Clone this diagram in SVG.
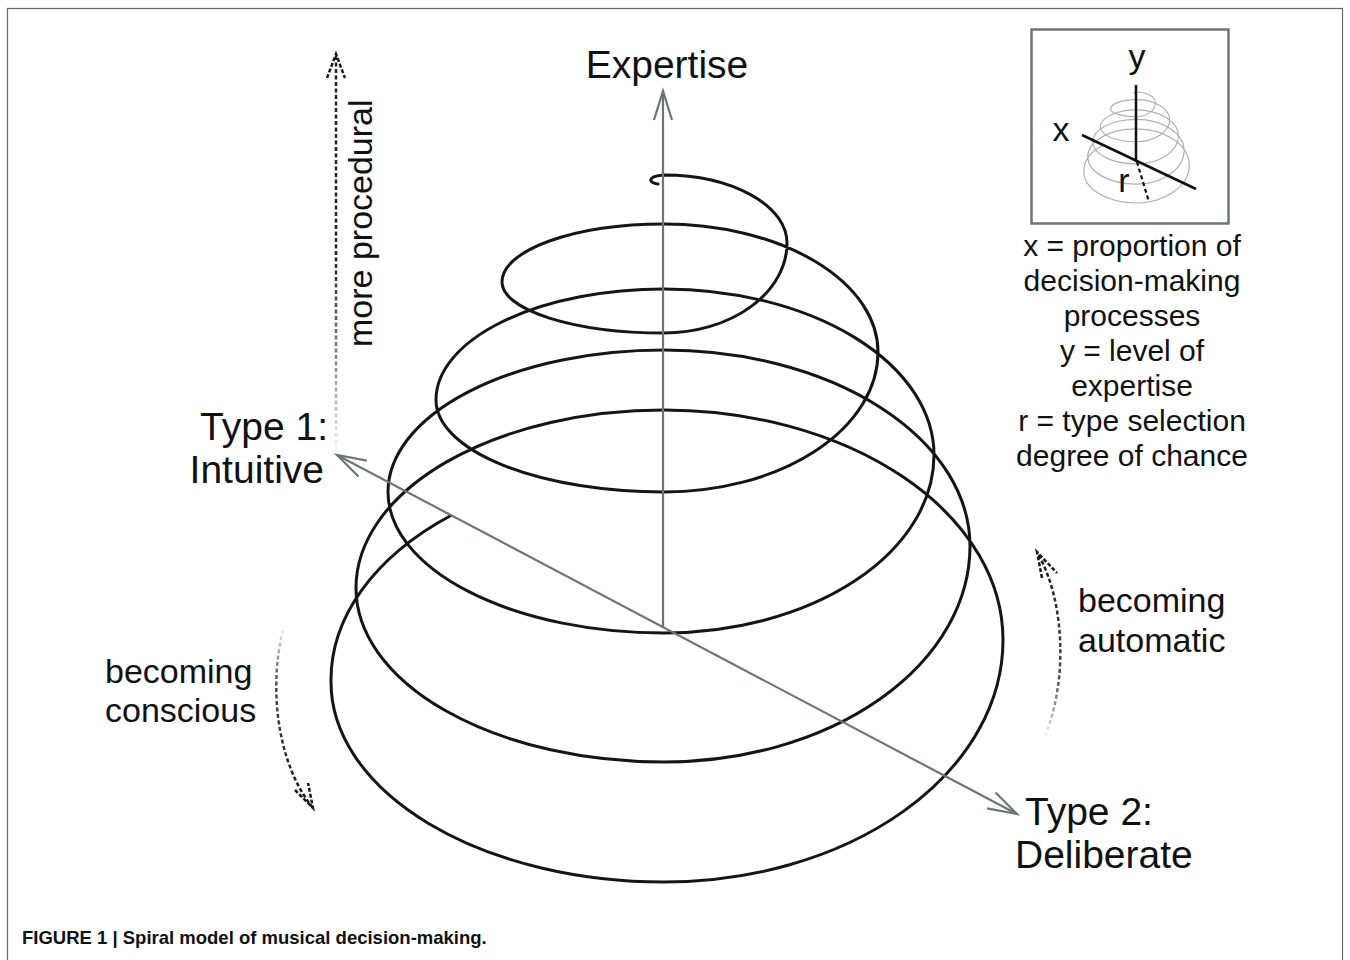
<svg xmlns="http://www.w3.org/2000/svg" xmlns:xlink="http://www.w3.org/1999/xlink" width="1350" height="960" viewBox="0 0 1350 960">
<style>
  text { font-family: "Liberation Sans", Arial, sans-serif; fill: #111; }
  .big { font-size: 39px; }
  .mid { font-size: 34px; }
  .legend { font-size: 30px; text-anchor: middle; }
  .axis { fill: none; stroke: #6c7676; stroke-width: 2.2; }
  .spiral { fill: none; stroke: #151515; stroke-width: 3; stroke-linejoin: round; stroke-linecap: round; }
  .mini { fill: none; stroke: #b0b0b0; stroke-width: 7.5; }
  .dash { fill: none; stroke-width: 2.5; stroke-dasharray: 4 2.5; }
  .dashhead { fill: none; stroke: #1a1a1a; stroke-width: 2.5; stroke-dasharray: 4 2; }
</style>
<defs>
  <marker id="ah" viewBox="-30 -12 32 24" refX="0" refY="0" markerWidth="32" markerHeight="24" markerUnits="userSpaceOnUse" orient="auto-start-reverse" overflow="visible">
    <path d="M -29 -9 L 0 0 L -29 9" fill="none" stroke="#6c7676" stroke-width="2.2"/>
  </marker>
  <path id="spiralPath" d="M 658 184 C 648 183 647 176 664 175 A 123 68 0 0 1 787 243 A 123 90 0 0 1 664 333 A 162 51 0 0 1 502 282 A 162 58 0 0 1 664 224 A 214 128 0 0 1 878 352 A 214 140 0 0 1 664 492 A 228 92 0 0 1 436 400 A 228 111 0 0 1 664 289 A 270 166 0 0 1 934 455 A 270 178 0 0 1 664 633 A 276 141 0 0 1 388 492 A 276 142 0 0 1 664 350 A 306 196 0 0 1 970 546 A 306 216 0 0 1 664 762 A 308 174 0 0 1 356 588 A 308 178 0 0 1 664 410 A 339 230 0 0 1 1003 640 A 339 242 0 0 1 664 882 A 333 200 0 0 1 331 682 A 333 214 0 0 1 450 516"/>
  <linearGradient id="fadeUp" gradientUnits="userSpaceOnUse" x1="0" y1="450" x2="0" y2="56">
    <stop offset="0" stop-color="#222" stop-opacity="0.05"/>
    <stop offset="0.25" stop-color="#222" stop-opacity="0.6"/>
    <stop offset="0.5" stop-color="#222" stop-opacity="1"/>
    <stop offset="1" stop-color="#222" stop-opacity="1"/>
  </linearGradient>
  <linearGradient id="fadeDown" gradientUnits="userSpaceOnUse" x1="0" y1="628" x2="0" y2="808">
    <stop offset="0" stop-color="#222" stop-opacity="0.05"/>
    <stop offset="0.3" stop-color="#222" stop-opacity="0.8"/>
    <stop offset="1" stop-color="#111" stop-opacity="1"/>
  </linearGradient>
  <linearGradient id="fadeUpR" gradientUnits="userSpaceOnUse" x1="0" y1="736" x2="0" y2="552">
    <stop offset="0" stop-color="#222" stop-opacity="0.05"/>
    <stop offset="0.3" stop-color="#222" stop-opacity="0.8"/>
    <stop offset="1" stop-color="#111" stop-opacity="1"/>
  </linearGradient>
</defs>

<rect x="7.5" y="8.5" width="1335" height="970" fill="#fff" stroke="#666" stroke-width="1.2"/>

<g id="spiral">
  <use xlink:href="#spiralPath" href="#spiralPath" class="spiral"/>
</g>

<g id="connectors">
  <path id="axis-expertise" class="axis" d="M 663 627 L 663 91" marker-end="url(#ah)"/>
  <path id="axis-type" class="axis" d="M 337 455 L 1017 814" marker-start="url(#ah)" marker-end="url(#ah)"/>
  <g id="arrow-procedural">
    <path class="dash" stroke="url(#fadeUp)" stroke-width="1.9" d="M 336 450 L 336 56"/>
    <path class="dashhead" stroke-width="2.2" d="M 327 78 L 336 54 L 345 78"/>
  </g>
  <g id="arrow-conscious">
    <path class="dash" stroke="url(#fadeDown)" d="M 283 630 C 268 690 278 765 313 808"/>
    <path class="dashhead" d="M 295 790 L 313 808 L 308 783"/>
  </g>
  <g id="arrow-automatic">
    <path class="dash" stroke="url(#fadeUpR)" d="M 1045 736 C 1068 680 1065 600 1037 552"/>
    <path class="dashhead" d="M 1042 578 L 1037 552 L 1057 573"/>
  </g>
</g>

<g id="label-expertise"><text class="big" x="667" y="78" text-anchor="middle">Expertise</text></g>
<g id="label-type1">
  <text class="big" x="328" y="440" text-anchor="end">Type 1:</text>
  <text class="big" x="324" y="483" text-anchor="end">Intuitive</text>
</g>
<g id="label-type2">
  <text class="big" x="1025" y="825">Type 2:</text>
  <text class="big" x="1015" y="868">Deliberate</text>
</g>
<g id="label-procedural">
  <text class="mid" transform="translate(372,347) rotate(-90)">more procedural</text>
</g>
<g id="label-conscious">
  <text class="mid" x="105" y="683">becoming</text>
  <text class="mid" x="105" y="722">conscious</text>
</g>
<g id="label-automatic">
  <text class="mid" x="1078" y="612">becoming</text>
  <text class="mid" x="1078" y="652">automatic</text>
</g>

<g id="inset">
  <rect x="1031.5" y="29.5" width="197" height="194" fill="#fff" stroke="#6d7575" stroke-width="2.5"/>
  <use xlink:href="#spiralPath" href="#spiralPath" class="mini" transform="translate(1031.8,64.5) scale(0.157)"/>
  <line x1="1136" y1="85" x2="1136" y2="162" stroke="#111" stroke-width="2.5"/>
  <line x1="1082" y1="135" x2="1196" y2="189" stroke="#111" stroke-width="2.5"/>
  <line x1="1137" y1="162" x2="1149" y2="202" stroke="#111" stroke-width="2.2" stroke-dasharray="4 3"/>
  <text class="mid" x="1137" y="68" text-anchor="middle">y</text>
  <text class="mid" x="1061" y="141" text-anchor="middle">x</text>
  <text class="mid" x="1124" y="192" text-anchor="middle">r</text>
</g>

<g id="legend">
  <text class="legend" x="1132" y="256">x = proportion of</text>
  <text class="legend" x="1132" y="291">decision-making</text>
  <text class="legend" x="1132" y="326">processes</text>
  <text class="legend" x="1132" y="361">y = level of</text>
  <text class="legend" x="1132" y="396">expertise</text>
  <text class="legend" x="1132" y="431">r = type selection</text>
  <text class="legend" x="1132" y="466">degree of chance</text>
</g>

<g id="caption">
  <text x="22" y="944" font-size="18.5" font-weight="bold">FIGURE 1 | Spiral model of musical decision-making.</text>
</g>
</svg>
